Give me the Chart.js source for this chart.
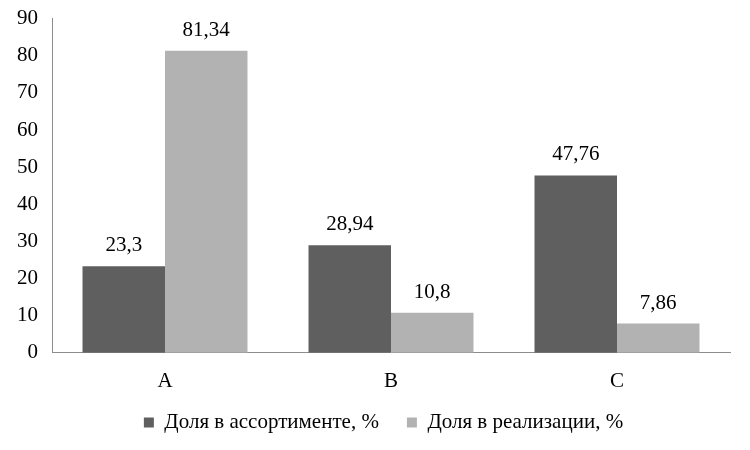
<!DOCTYPE html>
<html>
<head>
<meta charset="utf-8">
<script src="https://cdn.jsdelivr.net/npm/chart.js@4"></script>
<style>
  html, body { margin: 0; padding: 0; background: #fff; }
  #wrap { width: 750px; height: 450px; }
</style>
</head>
<body>
<div id="wrap"><canvas id="chart"></canvas></div>
<script>
const categories = ['A', 'B', 'C']
const assortment = [23.3, 28.94, 47.76]
const sales = [81.34, 10.8, 7.86]
const seriesNames = ['Доля в ассортименте, %', 'Доля в реализации, %']

const font = { family: '"Liberation Serif", "Times New Roman", serif', size: 21 }

// draws the value above each bar, comma as decimal separator
const valueLabels = {
  id: 'valueLabels',
  afterDatasetsDraw(chart) {
    const { ctx } = chart
    ctx.save()
    ctx.font = `${font.size}px ${font.family}`
    ctx.fillStyle = '#000'
    ctx.textAlign = 'center'
    ctx.textBaseline = 'alphabetic'
    chart.data.datasets.forEach((ds, i) => {
      chart.getDatasetMeta(i).data.forEach((bar, j) => {
        const text = String(ds.data[j]).replace('.', ',')
        ctx.fillText(text, bar.x, bar.y - 15)
      })
    })
    ctx.restore()
  },
}

// nudge the legend a bit up and right, like in the original
const legendShift = {
  id: 'legendShift',
  afterLayout(chart) {
    const lg = chart.legend
    lg.top -= 18
    lg.bottom -= 18
    lg.left += 13
    lg.right += 13
  },
}

Chart.defaults.font = font
Chart.defaults.color = '#000'

new Chart(document.getElementById('chart'), {
  type: 'bar',
  data: {
    labels: categories,
    datasets: [
      { label: seriesNames[0], data: assortment, backgroundColor: '#5f5f5f' },
      { label: seriesNames[1], data: sales, backgroundColor: '#b2b2b2' },
    ],
  },
  options: {
    responsive: true,
    maintainAspectRatio: false,
    animation: false,
    layout: { padding: { top: 15, right: 20, left: 11, bottom: -11 } },
    datasets: { bar: { barPercentage: 1, categoryPercentage: 0.73 } },
    scales: {
      x: {
        grid: { display: false },
        border: { display: true, color: '#8c8c8c' },
        ticks: { padding: 8 },
      },
      y: {
        min: 0,
        max: 90,
        grid: { display: false },
        border: { display: true, color: '#8c8c8c' },
        ticks: { stepSize: 10, padding: 6 },
      },
    },
    plugins: {
      legend: {
        position: 'bottom',
        labels: { boxWidth: 10, boxHeight: 10, padding: 28 },
      },
      tooltip: { enabled: false },
    },
  },
  plugins: [valueLabels, legendShift],
})
</script>
</body>
</html>
